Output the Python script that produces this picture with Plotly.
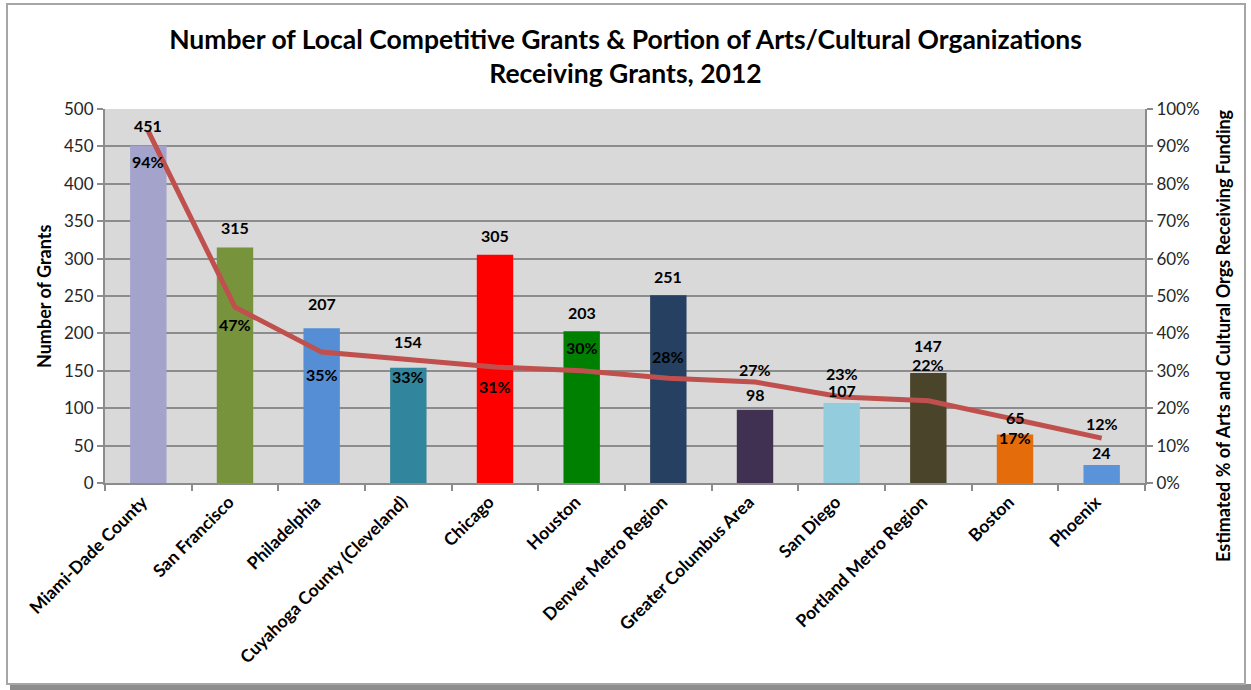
import plotly.graph_objects as go

categories = ["Miami-Dade County", "San Francisco", "Philadelphia", "Cuyahoga County (Cleveland)",
              "Chicago", "Houston", "Denver Metro Region", "Greater Columbus Area", "San Diego",
              "Portland Metro Region", "Boston", "Phoenix"]
grants = [451, 315, 207, 154, 305, 203, 251, 98, 107, 147, 65, 24]
pct_funded = [94, 47, 35, 33, 31, 30, 28, 27, 23, 22, 17, 12]
bar_colors = ["#A3A3CC", "#77933C", "#558ED5", "#31859C", "#FF0000", "#008000",
              "#254061", "#403152", "#93CDDD", "#4A452A", "#E46C0A", "#5B93DB"]
# label placement offsets in px (style only)
bar_label_shift = [20, 20, 25, 26, 19, 19, 19, 15, 12, 28, 17, 13]
pct_label_shift = [-30, -17, -22, -17, -19, 23, 22, 13, 23, 36, -18, 15]

FONT = "Lato, 'Open Sans', sans-serif"

fig = go.Figure()
fig.add_trace(go.Bar(
    x=categories, y=grants, marker=dict(color=bar_colors, line=dict(width=0)),
    width=0.42, showlegend=False, hoverinfo="x+y",
))
fig.add_trace(go.Scatter(
    x=categories, y=pct_funded, yaxis="y2", mode="lines",
    line=dict(color="#C0504D", width=5), showlegend=False,
))

annotations = []
for c, g, s in zip(categories, grants, bar_label_shift):
    annotations.append(dict(x=c, y=g, xref="x", yref="y", text=str(g), showarrow=False,
                            yshift=s, font=dict(family=FONT, size=16, color="#000000", weight="bold")))
for c, p, s in zip(categories, pct_funded, pct_label_shift):
    annotations.append(dict(x=c, y=p, xref="x", yref="y2", text=f"{p}%", showarrow=False,
                            yshift=s, font=dict(family=FONT, size=16, color="#000000", weight="bold")))

W, H = 1251, 690
L, R, T, B = 105, 106, 109, 207
pw, ph = W - L - R, H - T - B

def px(x):
    return (x - L) / pw

def py(y):
    return (H - B - y) / ph

annotations.append(dict(
    x=px(1223), y=py(336), xref="paper", yref="paper", showarrow=False, textangle=-90,
    xanchor="center", yanchor="middle",
    text="Estimated % of Arts and Cultural Orgs Receiving Funding",
    font=dict(family=FONT, size=18, color="#000000", weight="bold"),
))
annotations.append(dict(
    x=px(44), y=py(297), xref="paper", yref="paper", showarrow=False, textangle=-90,
    xanchor="center", yanchor="middle",
    text="Number of Grants",
    font=dict(family=FONT, size=18, color="#000000", weight="bold"),
))

fig.update_layout(
    width=W, height=H,
    margin=dict(l=L, r=R, t=T, b=B, autoexpand=False),
    paper_bgcolor="#FFFFFF", plot_bgcolor="#D9D9D9",
    font=dict(family=FONT, color="#262626"),
    title=dict(
        text="Number of Local Competitive Grants & Portion of Arts/Cultural Organizations<br>Receiving Grants, 2012",
        x=0.5, xanchor="center", y=1 - 48.5 / H, yanchor="middle", automargin=False,
        font=dict(family=FONT, size=26.5, color="#000000", weight="bold"),
    ),
    xaxis=dict(
        tickangle=-45, tickfont=dict(family=FONT, size=17.5, color="#000000", weight="bold"),
        ticklabelshift=-6,
        showline=True, linecolor="#8C8C8C", linewidth=2, automargin=False,
        ticks="outside", tickson="boundaries", ticklen=6, tickcolor="#8C8C8C", tickwidth=2,
        showgrid=False,
    ),
    yaxis=dict(
        range=[0, 500], dtick=50, automargin=False,
        tickfont=dict(family=FONT, size=17, color="#262626"),
        showline=True, linecolor="#8C8C8C", linewidth=2,
        ticks="outside", ticklen=6, tickcolor="#8C8C8C", tickwidth=2,
        showgrid=True, gridcolor="#8C8C8C", gridwidth=2, zeroline=False,
    ),
    yaxis2=dict(
        range=[0, 100], dtick=10, ticksuffix="%", overlaying="y", side="right", automargin=False,
        tickfont=dict(family=FONT, size=17, color="#262626"),
        showline=True, linecolor="#8C8C8C", linewidth=2,
        ticks="outside", ticklen=6, tickcolor="#8C8C8C", tickwidth=2,
        showgrid=False, zeroline=False,
    ),
    annotations=annotations,
    shapes=[
        dict(type="rect", xref="paper", yref="paper", x0=px(10), x1=px(1251), y0=py(690), y1=py(684),
             fillcolor="#8C8C8C", line=dict(width=0), layer="below"),
        dict(type="rect", xref="paper", yref="paper", x0=px(7), x1=px(1245), y0=py(684), y1=py(4),
             fillcolor="rgba(0,0,0,0)", line=dict(color="#A6A6A6", width=2), layer="below"),
    ],
)

fig.write_html("out.html", config={"displayModeBar": False},
               post_script="document.body.style.margin='0';")
